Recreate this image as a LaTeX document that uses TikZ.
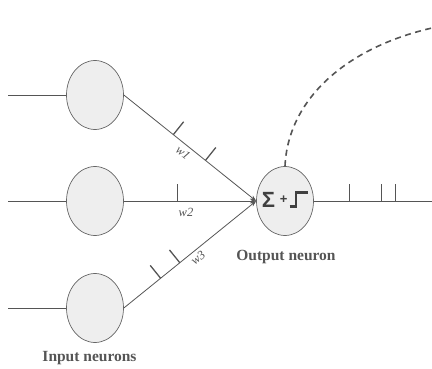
\documentclass[tikz,border=0pt]{standalone}
\usepackage{fontspec}
\setmainfont{Liberation Serif}
\newfontfamily\symfont{Liberation Sans}
\usetikzlibrary{arrows.meta,calc,shapes.geometric}
\definecolor{linegray}{HTML}{555555}
\definecolor{fillgray}{HTML}{EEEEEE}
\definecolor{edgegray}{HTML}{666666}
\definecolor{textgray}{HTML}{555555}
\tikzset{
  neuron/.style={ellipse, draw=edgegray, fill=fillgray, line width=0.7pt, minimum width=57pt, minimum height=69pt, inner sep=0pt},
  wire/.style={draw=linegray, line width=0.8pt},
  tick/.style={draw=linegray, line width=1.3pt},
  arrowwire/.style={wire, -{Stealth[length=6pt,width=4.5pt]}},
  wlabel/.style={font=\itshape\fontsize{12.5}{12.5}\selectfont, text=textgray, inner sep=0pt},
  caption/.style={font=\bfseries\fontsize{15.5}{15.5}\selectfont, text=textgray, inner sep=0pt, anchor=base},
  feedback/.style={draw=linegray, line width=1.6pt, dash pattern=on 6pt off 4.5pt}
}
\begin{document}
\begin{tikzpicture}[x=1pt,y=-1pt]
\useasboundingbox (0,0) rectangle (432,369);
% input neurons
\node[neuron] (in1) at (95,95) {};
\node[neuron] (in2) at (95,201) {};
\node[neuron] (in3) at (95,308) {};
% output neuron
\node[neuron] (out) at (285,201) {};
% free ends
\coordinate (s1) at (8,95);
\coordinate (s2) at (8,201);
\coordinate (s3) at (8,308);
\coordinate (oe) at (432,201);
\coordinate (fb) at (432,28);
% input wires
\draw[wire] (s1) -- (in1.west);
\draw[wire] (s2) -- (in2.west);
\draw[wire] (s3) -- (in3.west);
% weighted connections
\draw[arrowwire] (in1.east) -- (out.west);
\draw[arrowwire] (in2.east) -- (out.west);
\draw[arrowwire] (in3.east) -- (out.west);
% ticks on connections
\foreach \t in {0.374,0.617}{
  \draw[tick] ($(in1.east)!\t!(out.west)$) -- ($($(in1.east)!\t!(out.west)$)!16.5pt!90:(out.west)$);
}
\draw[tick] ($(in2.east)!0.408!(out.west)$) -- ($($(in2.east)!0.408!(out.west)$)!17pt!90:(out.west)$);
\foreach \t in {0.278,0.423}{
  \draw[tick] ($(in3.east)!\t!(out.west)$) -- ($($(in3.east)!\t!(out.west)$)!16.5pt!90:(out.west)$);
}
% weight labels
\node[wlabel, rotate=-38.6] (w1) at (183,153) {w1};
\node[wlabel] (w2) at (186,212) {w2};
\node[wlabel, rotate=38.8] (w3) at (198,258) {w3};
% output wire
\draw[wire] (out.east) -- (oe);
\foreach \x in {349.3,381.7,395.7}{
  \draw[tick] (\x,201) -- (\x,184);
}
% feedback dashed curve
\draw[feedback] (out.north) .. controls (288,100) and (345,48) .. (fb);
% symbol inside output neuron
\node[font=\symfont\bfseries\fontsize{22}{22}\selectfont, text=black!75, inner sep=0pt] (sig) at (268.4,199.5) {Σ};
\node[font=\symfont\bfseries\fontsize{13}{13}\selectfont, text=black!75, inner sep=0pt] (plus) at (283.6,199.5) {+};
\draw[draw=black!75, line width=2.3pt] (289.5,206.5) -- (296,206.5) -- (296,192.5) -- (307.5,192.5);
% captions
\node[caption] (outcap) at (286,260.5) {Output neuron};
\node[caption] (incap) at (89.5,361.5) {Input neurons};
\end{tikzpicture}
\end{document}
